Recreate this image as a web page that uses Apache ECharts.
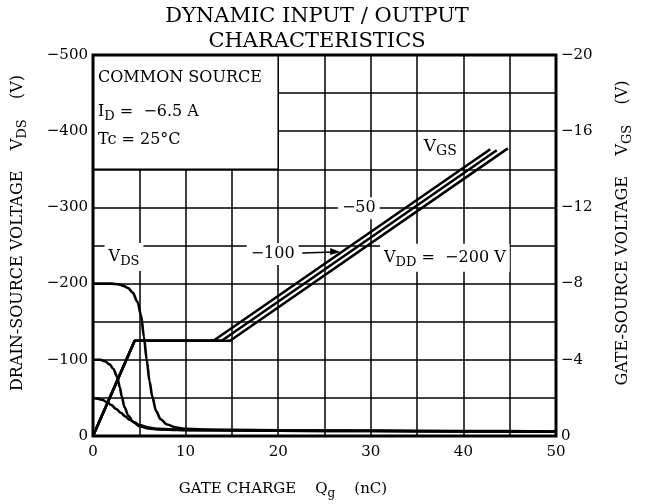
<!DOCTYPE html>
<html><head><meta charset="utf-8">
<script src="https://cdn.jsdelivr.net/npm/echarts@6/dist/echarts.min.js"></script>
<style>html,body{margin:0;padding:0;background:#fff}#c{width:647px;height:504px}</style>
</head><body><div id="c"></div>
<script>
// ---- tick labels ----
const xTicks = [0, 10, 20, 30, 40, 50];
const vdsTicks = [0, 100, 200, 300, 400, 500];
const vgsTicks = [0, 4, 8, 12, 16, 20];

// ---- V_GS (right axis, magnitude in V) vs Qg (nC) ----
const vgsQ_50 = [0, 4.5, 13.0, 42.9];
const vgs_50 = [0, 5, 5, 15.05];
const vgsQ_100 = [0, 4.5, 13.9, 43.6];
const vgs_100 = [0, 5, 5, 15.0];
const vgsQ_200 = [0, 4.5, 14.8, 44.8];
const vgs_200 = [0, 5, 5, 15.1];

// ---- V_DS (left axis, magnitude in V) vs Qg (nC) ----
const vdsQ_200 = [0, 1, 2, 2.8, 3.3, 3.8, 4.3, 4.8, 5.2, 5.5, 5.8, 6.1, 6.4, 6.8, 7.3, 8.0, 9.0, 10, 12, 15, 20, 30, 40, 50];
const vds_200 = [200, 200, 200, 199, 197, 194, 188, 176, 158, 130, 100, 72, 52, 33, 22, 15, 11, 9.5, 8.5, 8, 7.5, 7, 6.5, 6];
const vdsQ_100 = [0, 0.8, 1.3, 1.8, 2.2, 2.6, 2.9, 3.1, 3.4, 3.8, 4.3, 5.0, 6.0, 7.2, 9, 12, 20, 30, 40, 50];
const vds_100 = [100, 100, 98, 94, 88, 78, 64, 52, 38, 27, 19, 13, 10, 8.5, 8, 7.5, 7, 6.5, 6, 5.5];
const vdsQ_50 = [0, 0.5, 1, 1.5, 2, 2.5, 3, 3.5, 4, 4.5, 5, 6, 7, 8.5, 10, 15, 20, 30, 40, 50];
const vds_50 = [50, 49, 47.5, 44.5, 40.5, 35.5, 30.5, 25.5, 21, 17.5, 14.5, 11, 9.5, 8.5, 8, 7.5, 7, 6.5, 6, 5.5];

const FONT = 'DejaVu Serif';
const MINUS = '\u2212';
const pairs = (xs, ys) => xs.map((x, i) => [x, ys[i]]);

const chart = echarts.init(document.getElementById('c'), null, {renderer: 'canvas'});

const lineBase = {type: 'line', showSymbol: false, symbol: 'none', animation: false,
  lineStyle: {color: '#000', width: 2.6}, z: 3};

const option = {
  animation: false,
  backgroundColor: '#fff',
  title: {
    text: 'DYNAMIC INPUT / OUTPUT\nCHARACTERISTICS',
    left: 317, textAlign: 'center', top: 4, padding: 0,
    textStyle: {fontFamily: FONT, fontSize: 21, fontWeight: 'normal', color: '#000', lineHeight: 25}
  },
  grid: {left: 93, right: 91, top: 55, bottom: 68, show: false},
  xAxis: [{
    type: 'value', min: 0, max: 50, interval: 5,
    axisLine: {show: false}, axisTick: {show: false},
    axisLabel: {margin: 9, fontFamily: FONT, fontSize: 15, color: '#000',
      formatter: v => xTicks.includes(v) ? String(v) : ''},
    splitLine: {show: true, lineStyle: {color: '#000', width: 1.5}}
  }],
  yAxis: [{
    type: 'value', min: 0, max: 500, interval: 50, position: 'left',
    axisLine: {show: false}, axisTick: {show: false},
    axisLabel: {margin: 5, fontFamily: FONT, fontSize: 15, color: '#000',
      formatter: v => vdsTicks.includes(v) ? (v === 0 ? '0' : MINUS + v) : ''},
    splitLine: {show: true, lineStyle: {color: '#000', width: 1.5}}
  }, {
    type: 'value', min: 0, max: 20, interval: 4, position: 'right',
    axisLine: {show: false}, axisTick: {show: false},
    axisLabel: {margin: 5, fontFamily: FONT, fontSize: 15, color: '#000',
      formatter: v => vgsTicks.includes(v) ? (v === 0 ? '0' : MINUS + v) : ''},
    splitLine: {show: false}
  }],
  series: [
    Object.assign({}, lineBase, {name: 'VDS -200', yAxisIndex: 0, smooth: 0.3, smoothMonotone: 'x', data: pairs(vdsQ_200, vds_200)}),
    Object.assign({}, lineBase, {name: 'VDS -100', yAxisIndex: 0, smooth: 0.3, smoothMonotone: 'x', data: pairs(vdsQ_100, vds_100)}),
    Object.assign({}, lineBase, {name: 'VDS -50', yAxisIndex: 0, smooth: 0.3, smoothMonotone: 'x', data: pairs(vdsQ_50, vds_50)}),
    Object.assign({}, lineBase, {name: 'VGS -50', yAxisIndex: 1, data: pairs(vgsQ_50, vgs_50)}),
    Object.assign({}, lineBase, {name: 'VGS -100', yAxisIndex: 1, data: pairs(vgsQ_100, vgs_100)}),
    Object.assign({}, lineBase, {name: 'VGS -200', yAxisIndex: 1, data: pairs(vgsQ_200, vgs_200)})
  ]
};
chart.setOption(option);

// ---- annotations placed from data coordinates ----
const P = (q, v) => chart.convertToPixel({xAxisIndex: 0, yAxisIndex: 0}, [q, v]);
const p00 = P(0, 0), p5 = P(50, 500);
const boxA = P(0, 500), boxB = P(20, 350);
const richSub = (size) => ({
  n: {fontFamily: FONT, fontSize: size, color: '#000'},
  s: {fontFamily: FONT, fontSize: size - 3, color: '#000', padding: [9, 0, 0, 0]}
});
function label(q, v, text, size, align, bg) {
  const p = P(q, v);
  return {type: 'text', x: p[0], y: p[1], z: 60,
    style: {text: text, rich: richSub(size), fontFamily: FONT, fontSize: size, fill: '#000',
      align: align || 'center', verticalAlign: 'middle',
      backgroundColor: bg === false ? null : '#fff', padding: bg === false ? 0 : [3, 4, 3, 4]}};
}
const arrA = P(22.6, 240), arrB = P(26.7, 241.5);
const graphics = [
  {type: 'rect', z: 1, shape: {x: boxA[0], y: boxA[1], width: boxB[0] - boxA[0], height: boxB[1] - boxA[1]},
    style: {fill: '#fff', stroke: '#000', lineWidth: 1.5}},
  {type: 'rect', z: 50, shape: {x: p00[0], y: p5[1], width: p5[0] - p00[0], height: p00[1] - p5[1]},
    style: {fill: null, stroke: '#000', lineWidth: 3}},
  {type: 'text', z: 60, x: boxA[0] + 5, y: boxA[1] + 23,
    style: {text: 'COMMON SOURCE', fontFamily: FONT, fontSize: 16, fill: '#000', verticalAlign: 'middle'}},
  {type: 'text', z: 60, x: boxA[0] + 5, y: boxA[1] + 57,
    style: {text: '{n|I}{s|D}{n| =  ' + MINUS + '6.5 A}', rich: richSub(16), fontFamily: FONT, fontSize: 16, fill: '#000', verticalAlign: 'middle'}},
  {type: 'text', z: 60, x: boxA[0] + 5, y: boxA[1] + 85,
    style: {text: 'Tc = 25°C', fontFamily: FONT, fontSize: 16, fill: '#000', verticalAlign: 'middle'}},
  label(3.35, 235, '{n|V}{s|DS}', 16),
  label(19.4, 239, MINUS + '100', 16),
  label(28.7, 299, MINUS + '50', 16),
  label(37.5, 380, '{n|V}{s|GS}', 17),
  label(31.0, 234, '{n|V}{s|DD}{n| =  ' + MINUS + '200 V}', 16, 'left'),
  {type: 'line', z: 60, shape: {x1: arrA[0], y1: arrA[1], x2: arrB[0] - 6, y2: arrB[1]}, style: {stroke: '#000', lineWidth: 1.5}},
  {type: 'polygon', z: 60, shape: {points: [[arrB[0], arrB[1]], [arrB[0] - 10, arrB[1] - 4], [arrB[0] - 10, arrB[1] + 3]]}, style: {fill: '#000'}},
  // axis names
  {type: 'text', z: 60, x: 18, y: 233, rotation: Math.PI / 2,
    style: {text: '{n|DRAIN-SOURCE VOLTAGE    V}{s|DS}{n|    (V)}', rich: richSub(16), fontFamily: FONT, fontSize: 16, fill: '#000', align: 'center', verticalAlign: 'middle'}},
  {type: 'text', z: 60, x: 623, y: 233, rotation: Math.PI / 2,
    style: {text: '{n|GATE-SOURCE VOLTAGE    V}{s|GS}{n|    (V)}', rich: richSub(16), fontFamily: FONT, fontSize: 16, fill: '#000', align: 'center', verticalAlign: 'middle'}},
  {type: 'text', z: 60, x: 283, y: 489,
    style: {text: '{n|GATE CHARGE    Q}{s|g}{n|    (nC)}', rich: richSub(15), fontFamily: FONT, fontSize: 15, fill: '#000', align: 'center', verticalAlign: 'middle'}}
];
chart.setOption({graphic: graphics});
</script>
</body></html>
